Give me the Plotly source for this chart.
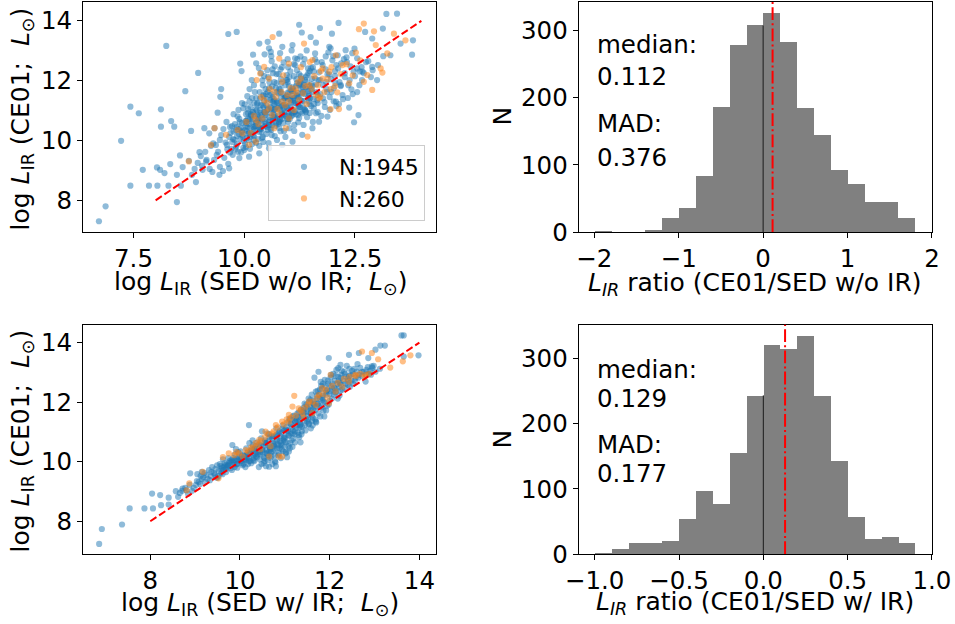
import plotly.graph_objects as go

# ---------------- data ----------------
# Top-left: CE01 vs SED w/o IR
tl_blue_x = [6.72, 6.87, 7.22, 7.43, 7.62, 7.43, 7.71, 7.85, 8.03, 8.10, 8.04, 8.12, 8.12, 8.24, 8.35, 8.42, 8.20, 8.33, 8.29, 8.48,
             8.48, 8.55, 8.57, 8.61, 8.67, 8.75, 8.80, 8.96, 8.91, 8.99, 9.06, 9.14, 9.21, 9.40, 9.46, 9.48, 9.64, 9.83, 9.91, 9.94,
             9.33, 9.44, 9.66, 9.10,
             10.20, 10.34, 10.53, 10.79, 10.60, 10.86, 11.09, 11.24, 11.30, 11.50, 11.71, 11.62, 11.98, 12.13, 11.92, 12.29, 12.49,
             12.73, 12.89, 13.13, 13.21, 13.45, 13.53, 13.81, 13.79, 13.30, 13.00, 12.89, 12.67, 12.58, 12.48, 12.37, 12.55, 12.18,
             12.07, 11.88, 11.69, 11.54, 11.31, 11.09, 10.86, 10.56, 10.34, 10.11, 9.89,
             9.32, 9.41, 9.36, 9.45, 9.38, 9.48, 9.30, 9.55, 9.62, 9.58, 9.66, 9.53, 9.68, 9.60, 9.64,
             9.74, 9.82, 9.78, 9.88, 9.72, 9.85, 9.80, 9.76, 9.87, 9.93, 10.02, 9.97, 10.06, 9.95, 10.08, 10.01, 10.04, 9.92, 10.07,
             10.13, 10.22, 10.16, 10.26, 10.19, 10.28, 10.12, 10.24, 10.21, 10.17, 10.27,
             10.34, 10.42, 10.38, 10.47, 10.32, 10.44, 10.36, 10.48, 10.41, 10.33, 10.46, 10.39,
             10.55, 10.62, 10.58, 10.66, 10.52, 10.68, 10.57, 10.63, 10.54, 10.69, 10.61, 10.56, 10.65,
             10.74, 10.82, 10.78, 10.86, 10.72, 10.88, 10.77, 10.84, 10.73, 10.89, 10.81, 10.76,
             10.93, 11.02, 10.97, 11.06, 10.92, 11.08, 11.01, 10.95, 11.04, 10.98, 11.07, 11.00,
             11.13, 11.22, 11.17, 11.26, 11.12, 11.28, 11.19, 11.24, 11.15, 11.27, 11.21,
             11.34, 11.42, 11.37, 11.46, 11.32, 11.48, 11.39, 11.44, 11.36, 11.41,
             11.55, 11.62, 11.58, 11.66, 11.52, 11.68, 11.57, 11.64, 11.60,
             11.74, 11.82, 11.78, 11.86, 11.72, 11.88, 11.77, 11.84,
             11.93, 12.02, 11.97, 12.06, 11.92, 12.08, 12.01, 11.95,
             12.14, 12.22, 12.18, 12.27, 12.12, 12.25, 12.34, 12.42, 12.38, 12.47, 12.32, 12.44,
             12.55, 12.66, 12.61, 12.75, 12.86, 13.02, 13.14,
             10.11, 10.29, 10.45, 10.51, 10.67, 10.71, 10.83, 10.91, 10.99, 11.09, 11.11, 11.23, 11.31, 11.35, 11.47, 11.53,
             10.37, 10.59, 10.79, 10.96, 11.18, 10.49, 10.23, 10.05, 9.91, 9.83, 10.15, 10.35, 10.85, 11.05, 11.25, 11.45,
             11.65, 11.85, 12.05, 10.65, 10.45, 10.85, 11.15, 11.55,
             9.05, 9.15, 9.22, 9.12, 9.25, 9.02, 8.95, 8.88, 8.82, 9.28, 9.45, 9.52,
             9.61, 9.69, 9.73, 9.79, 9.84, 9.86, 9.89, 9.94, 9.98, 10.03, 10.06, 10.09, 10.14, 10.18, 10.20, 10.25, 10.27, 10.31,
             10.33, 10.36, 10.40, 10.43, 10.45, 10.48, 10.50, 10.53, 10.56, 10.59, 10.61, 10.64, 10.66, 10.69, 10.71, 10.74,
             10.77, 10.80, 10.83, 10.85, 10.88, 10.90, 10.93, 10.96, 10.99, 11.02, 11.04, 11.07, 11.10, 11.13, 11.16, 11.19,
             11.21, 11.24, 11.27, 11.30, 11.33, 11.36, 11.39, 11.42, 11.45, 11.48, 11.51, 11.54, 11.57, 11.60, 11.63, 11.66,
             11.69, 11.72, 11.75, 11.78, 11.81, 11.84, 11.87, 11.90, 11.93, 11.96, 11.99, 12.02, 12.05, 12.08, 12.11, 12.15,
             12.19, 12.23, 12.27, 12.31, 12.35, 12.40, 12.45, 12.50, 12.55, 12.60, 12.65, 12.70, 12.80, 12.90, 10.22, 10.38,
             10.52, 10.68, 10.82, 10.98, 11.12, 11.28, 10.62, 10.42, 10.12, 9.95, 9.76, 9.68,
             9.71, 9.75, 9.81, 9.84, 9.90, 9.96, 10.00, 10.04, 10.07, 10.10, 10.14, 10.17, 10.20, 10.24, 10.27, 10.30,
             10.33, 10.37, 10.40, 10.43, 10.46, 10.50, 10.53, 10.56, 10.60, 10.63, 10.66, 10.70, 10.73, 10.76, 10.79, 10.82,
             10.85, 10.88, 10.91, 10.94, 10.97, 11.00, 11.03, 11.06, 11.09, 11.12, 11.15, 11.18, 11.21, 11.24, 11.27, 11.30,
             11.33, 11.36, 11.39, 11.42, 11.45, 11.48, 11.51, 11.54, 11.57, 11.60, 11.63, 11.66, 10.26, 10.47, 10.69, 10.90,
             11.11, 11.32, 10.58, 10.80, 11.01, 11.22, 10.35, 10.57, 10.78, 10.99, 11.20, 10.18, 9.98, 9.88, 10.12, 10.64,
             10.02, 10.08, 10.13, 10.19, 10.24, 10.29, 10.34, 10.39, 10.44, 10.49, 10.54, 10.59, 10.64, 10.69, 10.74, 10.79,
             10.84, 10.89, 10.94, 10.99, 11.04, 11.09, 11.14, 11.19, 11.24, 11.29, 11.34, 11.39, 11.44, 11.49,
             10.05, 10.11, 10.16, 10.21, 10.26, 10.31, 10.37, 10.42, 10.47, 10.52, 10.57, 10.62, 10.67, 10.72, 10.77, 10.82,
             10.87, 10.92, 10.97, 11.02, 11.07, 11.12, 11.17, 11.22, 11.27, 11.32, 11.37, 11.42, 11.47, 11.52,
             9.95, 9.99, 10.03, 10.09, 10.15, 10.22, 10.28, 10.35, 10.41, 10.48, 10.55, 10.61, 10.68, 10.75, 10.81, 10.88,
             10.95, 11.01, 11.08, 11.15]
tl_blue_y = [7.30, 7.80, 9.99, 11.13, 10.91, 8.49, 9.02, 8.49, 9.10, 9.02, 8.49, 11.04, 10.46, 13.16, 10.65, 10.46, 8.91, 9.21, 8.49, 8.85,
             7.94, 9.50, 8.49, 9.11, 11.65, 9.32, 10.32, 12.26, 8.61, 9.61, 9.02, 9.30, 10.24, 10.93, 11.46, 11.72, 13.56, 13.63, 12.57, 12.32,
             10.41, 8.85, 9.07, 10.41,
             12.87, 13.24, 13.30, 13.57, 12.96, 13.13, 13.19, 13.87, 13.61, 13.46, 13.76, 13.27, 13.57, 13.93, 13.13, 13.02, 13.07,
             13.63, 13.41, 13.74, 14.23, 14.24, 13.24, 13.35, 12.87, 12.85, 12.02, 12.46, 12.30, 10.85, 10.61, 11.10, 12.41, 11.85,
             11.30, 10.80, 10.63, 10.41, 10.19, 9.96, 9.85, 9.74, 9.57, 9.46, 9.41,
             9.35, 9.62, 9.85, 10.02, 9.52, 10.18, 9.90, 9.42, 9.71, 9.93, 10.12, 10.38, 9.60, 10.62, 9.22,
             9.52, 9.80, 10.02, 10.22, 10.48, 10.81, 9.70, 10.30, 11.02, 9.61, 9.88, 10.12, 10.31, 10.58, 10.92, 11.21, 9.78, 10.42, 11.48,
             9.72, 10.01, 10.22, 10.48, 10.71, 11.02, 11.31, 11.62, 10.38, 12.02, 12.58,
             9.82, 10.12, 10.38, 10.61, 10.83, 11.12, 11.41, 11.72, 12.01, 12.42, 12.88, 10.28,
             9.91, 10.18, 10.52, 10.78, 11.02, 11.21, 11.52, 11.81, 12.12, 12.48, 12.82, 13.08, 10.68,
             10.02, 10.31, 10.62, 10.88, 11.12, 11.32, 11.58, 11.91, 12.22, 12.61, 12.92, 10.82,
             10.12, 10.41, 10.72, 11.02, 11.21, 11.48, 11.82, 12.02, 12.31, 12.72, 13.01, 11.38,
             10.32, 10.61, 10.88, 11.12, 11.42, 11.71, 11.92, 12.22, 12.52, 12.81, 11.22,
             10.52, 10.78, 11.02, 11.31, 11.62, 11.82, 12.12, 12.41, 12.72, 13.01,
             10.62, 10.91, 11.22, 11.52, 11.72, 12.02, 12.31, 12.62, 12.91,
             10.82, 11.12, 11.41, 11.72, 12.02, 12.21, 12.52, 12.81,
             11.02, 11.31, 11.62, 11.92, 12.21, 12.52, 12.82, 13.08,
             11.22, 11.52, 11.82, 12.12, 12.41, 12.72, 11.42, 11.71, 12.02, 12.31, 12.62, 12.92,
             11.62, 12.02, 12.31, 12.62, 12.12, 12.52, 12.82,
             10.55, 10.86, 10.95, 10.45, 11.38, 10.49, 11.45, 10.95, 11.61, 10.86, 11.66, 11.47, 10.91, 11.86, 11.54, 12.06,
             11.18, 11.36, 11.73, 12.19, 12.05, 11.55, 11.25, 10.66, 10.05, 10.45, 10.85, 10.65, 11.15, 11.25, 11.85, 12.25,
             11.35, 11.95, 12.15, 12.25, 12.15, 12.45, 12.75, 12.45,
             9.15, 9.35, 9.05, 9.62, 9.82, 9.48, 9.25, 9.05, 8.85, 8.95, 9.12, 8.98,
             9.85, 10.25, 9.95, 10.55, 10.15, 9.62, 10.72, 10.28, 9.75, 10.48, 10.08, 11.05, 10.42, 9.88, 10.95, 10.32, 11.42, 10.05,
             10.72, 11.02, 10.52, 9.95, 11.32, 10.85, 10.22, 11.62, 10.62, 11.12, 10.35, 11.45, 10.95, 10.15, 11.75, 11.28,
             10.55, 11.02, 12.05, 10.72, 11.55, 10.32, 11.85, 11.12, 10.62, 12.12, 11.42, 10.82, 11.72, 10.52, 11.25, 12.35,
             11.58, 10.75, 11.95, 11.32, 12.55, 11.05, 11.78, 12.18, 11.48, 10.92, 12.42, 11.62, 11.08, 12.72, 11.88, 11.25,
             12.28, 11.55, 12.62, 11.85, 11.28, 12.38, 11.62, 12.95, 11.45, 12.05, 12.68, 11.75, 12.32, 11.15, 12.85, 11.95,
             12.58, 11.38, 12.25, 12.78, 11.85, 12.48, 11.55, 12.15, 12.75, 11.85, 12.45, 12.25, 12.65, 12.35, 11.85, 12.25,
             12.35, 11.95, 12.38, 11.95, 12.55, 12.15, 12.65, 11.85, 11.72, 11.25, 10.88, 10.45,
             9.72, 10.05, 10.35, 9.88, 10.62, 10.18, 9.68, 10.88, 10.45, 10.02, 11.12, 10.62, 10.18, 10.82, 9.92, 11.25,
             10.45, 10.92, 10.08, 11.52, 10.72, 11.18, 10.35, 11.75, 10.92, 10.52, 11.32, 10.78, 11.92, 11.08, 10.42, 11.62,
             10.95, 10.58, 11.42, 10.82, 12.02, 11.15, 10.72, 11.68, 11.05, 12.15, 10.98, 11.48, 10.85, 11.88, 11.35, 12.05,
             11.12, 11.55, 10.95, 11.95, 11.42, 12.32, 11.15, 11.82, 11.38, 12.08, 11.62, 10.95, 10.58, 10.48, 11.05, 11.08,
             11.35, 11.78, 10.68, 10.72, 10.92, 11.15, 11.62, 11.95, 12.22, 12.45, 12.72, 11.42, 11.08, 10.38, 10.72, 12.38,
             10.35, 10.72, 10.12, 10.95, 10.48, 11.22, 10.28, 10.85, 11.48, 10.55, 11.05, 10.38, 11.28, 10.75, 11.62, 10.62,
             11.15, 10.88, 11.45, 10.72, 11.35, 11.78, 10.95, 11.52, 11.12, 11.88, 11.32, 10.98, 11.65, 11.42,
             10.58, 10.25, 10.82, 10.45, 11.05, 10.68, 10.42, 11.18, 10.92, 11.38, 10.78, 11.55, 11.02, 10.58, 11.25, 11.72,
             10.85, 11.42, 11.08, 11.62, 10.92, 11.25, 11.82, 11.45, 10.95, 11.58, 12.02, 11.72, 11.22, 11.88,
             10.32, 9.98, 10.65, 10.22, 10.88, 10.15, 10.62, 10.38, 10.72, 10.95, 10.52, 11.08, 10.85, 11.32, 10.68, 11.18,
             11.48, 10.82, 11.65, 11.32]

tl_orange_x = [10.64, 10.36, 10.28, 10.45, 10.79, 11.01, 11.35, 11.54, 11.77, 12.07, 12.22, 12.59, 12.70, 12.93, 13.38, 13.64,
               13.23, 12.97, 12.52, 13.08, 13.12, 12.78, 12.70, 12.89, 12.37, 12.10, 11.95, 12.14, 11.69, 11.62, 11.24, 11.09,
               10.86, 10.68, 10.45, 10.41, 10.26, 10.56, 10.79, 11.01, 10.94, 10.68, 9.96, 9.85, 9.33, 9.25, 8.75, 11.43,
               11.16, 11.47, 11.28, 10.56, 10.86, 11.77, 11.92, 11.01, 10.11, 9.59, 10.26,
               10.32, 10.48, 10.52, 10.63, 10.71, 10.75, 10.84, 10.92, 10.97, 11.05, 11.12, 11.18, 11.22, 11.33, 11.38, 11.41,
               11.52, 11.58, 11.66, 11.73, 11.81, 11.88, 11.97, 12.05, 12.18, 12.31, 12.45, 12.62, 10.15, 10.05, 10.22, 10.88,
               11.28, 11.48, 10.58, 10.38, 11.72, 11.95]
tl_orange_y = [13.46, 12.24, 12.02, 12.46, 12.74, 12.57, 13.24, 12.69, 12.41, 12.85, 12.52, 13.72, 13.91, 13.65, 13.57, 13.35,
               12.91, 13.19, 12.94, 12.41, 12.27, 12.19, 11.96, 11.69, 11.91, 11.61, 11.05, 11.05, 11.41, 11.52, 11.35, 11.52,
               11.30, 11.63, 11.35, 10.74, 10.69, 11.07, 10.91, 10.74, 10.41, 10.41, 10.24, 10.35, 10.41, 9.85, 9.30, 10.13,
               11.74, 11.85, 12.07, 12.07, 11.96, 12.07, 12.30, 11.30, 9.85, 10.19, 9.96,
               10.55, 10.95, 11.25, 10.85, 11.45, 11.05, 11.62, 11.18, 11.52, 11.75, 11.02, 11.62, 11.95, 11.58, 11.82, 11.22,
               11.72, 12.15, 11.85, 12.32, 11.62, 12.05, 12.45, 11.82, 12.22, 12.55, 12.18, 12.68, 10.25, 10.62, 10.82, 12.18,
               12.45, 12.62, 11.72, 11.45, 11.45, 11.72]

# Bottom-left: CE01 vs SED w/ IR
bl_blue_x = [6.86, 6.92, 7.37, 7.54, 7.87, 8.06, 8.04, 8.24, 8.22, 8.41, 8.41, 8.57, 8.72, 8.89, 8.80, 9.15, 9.50, 10.20, 9.83,
             11.98, 12.43, 12.65, 12.86, 13.02, 13.13, 13.23, 13.60, 13.65, 13.65, 13.98, 12.94, 12.80, 12.19, 12.24, 11.61,
             11.69, 11.31, 11.17, 11.02, 10.65, 11.09,
             8.62, 8.71, 8.78, 8.84, 8.88, 8.66, 8.93, 9.02, 9.08, 9.15, 8.97, 9.12, 9.05,
             9.22, 9.28, 9.35, 9.42, 9.31, 9.47, 9.38, 9.25, 9.52, 9.58, 9.63, 9.71, 9.55, 9.77, 9.68, 9.62,
             9.82, 9.88, 9.93, 10.02, 9.85, 10.07, 9.96, 10.04, 9.91,
             10.12, 10.18, 10.23, 10.31, 10.15, 10.37, 10.26, 10.34, 10.21, 10.28,
             10.42, 10.48, 10.55, 10.63, 10.45, 10.68, 10.52, 10.58, 10.66, 10.49, 10.61,
             10.72, 10.78, 10.85, 10.93, 10.75, 10.97, 10.82, 10.88, 10.95, 10.73, 10.91,
             11.02, 11.08, 11.15, 11.22, 11.05, 11.27, 11.12, 11.18, 11.25, 11.01,
             11.32, 11.38, 11.45, 11.52, 11.35, 11.57, 11.42, 11.48, 11.55, 11.33, 11.58,
             11.62, 11.68, 11.75, 11.82, 11.65, 11.87, 11.72, 11.78, 11.85, 11.66, 11.75, 11.88,
             11.92, 11.98, 12.05, 12.12, 11.95, 12.17, 12.02, 12.08, 12.15, 12.18,
             12.22, 12.28, 12.35, 12.42, 12.25, 12.47, 12.32, 12.38, 12.45,
             12.52, 12.58, 12.65, 12.72, 12.55, 12.82, 12.88, 12.62, 12.92, 13.02, 13.12, 12.98,
             10.13, 10.33, 10.53, 10.73, 10.93, 11.13, 11.33, 11.53, 11.73, 11.93, 12.13, 10.43, 10.63, 10.83, 11.03,
             11.23, 11.43, 11.63, 11.83, 12.03, 12.23, 9.73, 9.93, 10.03, 9.45, 10.58, 10.80, 10.68, 11.05, 11.35,
             9.04, 9.11, 9.18, 9.21, 9.33, 9.36, 9.44, 9.49,
             9.53, 9.57, 9.61, 9.66, 9.69, 9.74, 9.79, 9.81, 9.86, 9.89, 9.94, 9.97, 10.01, 10.06, 10.09, 10.14, 10.17,
             10.22, 10.25, 10.29, 10.32, 10.36, 10.39, 10.41, 10.44, 10.47, 10.50, 10.53, 10.56, 10.59, 10.62, 10.65, 10.67,
             10.70, 10.74, 10.77, 10.79, 10.81, 10.84, 10.87, 10.90, 10.92, 10.96, 10.99,
             11.03, 11.06, 11.09, 11.11, 11.14, 11.17, 11.20, 11.23, 11.26, 11.29, 11.31, 11.34, 11.37, 11.40, 11.43, 11.46,
             11.49, 11.51, 11.54, 11.57, 11.59,
             11.61, 11.64, 11.67, 11.70, 11.73, 11.76, 11.79, 11.81, 11.84, 11.86, 11.89, 11.91, 11.94, 11.97, 12.00, 12.03,
             12.06, 12.09, 12.11, 12.14, 12.19, 12.21, 12.24, 12.27, 12.30,
             12.33, 12.37, 12.40, 12.44, 12.48, 12.52, 12.56, 12.60, 12.64, 12.68, 12.72, 12.76, 12.81, 12.85, 12.90, 12.95,
             9.58, 9.64, 9.70, 9.76, 9.83, 9.90, 9.96, 10.03, 10.10, 10.16, 10.20, 10.27, 10.30, 10.35, 10.40, 10.46,
             10.51, 10.57, 10.60, 10.64, 10.69, 10.72, 10.76, 10.80, 10.83, 10.86, 10.89, 10.94, 10.98, 11.00, 11.07, 11.10,
             11.16, 11.19, 11.24, 11.28, 11.32, 11.36, 11.41, 11.44, 11.50, 11.53, 11.56, 11.60, 11.63, 11.69, 11.71, 11.77,
             11.80, 11.83, 11.90, 11.96, 12.01, 12.07, 12.13, 12.20, 12.26, 12.34, 12.43, 12.50,
             9.60, 9.67, 9.73, 9.80, 9.87, 9.93, 9.99, 10.05, 10.11, 10.19, 10.24, 10.33, 10.38, 10.43, 10.50, 10.55,
             10.60, 10.66, 10.71, 10.76, 10.82, 10.88, 10.93, 10.97, 11.02, 11.08, 11.13, 11.18, 11.23, 11.30, 11.35, 11.41,
             11.47, 11.52, 11.58, 11.64, 11.70, 11.78, 11.85, 11.93,
             10.08, 10.20, 10.30, 10.45, 10.55, 10.65, 10.78, 10.88, 11.00, 11.12, 11.22, 11.38, 11.50, 11.62, 11.74, 11.88,
             12.00, 12.10, 12.25, 12.40]
bl_blue_y = [7.24, 7.74, 7.89, 8.43, 8.43, 8.43, 8.93, 8.54, 8.88, 8.79, 8.56, 9.01, 9.10, 9.61, 9.04, 9.66, 9.46, 11.23, 10.56,
             13.48, 13.59, 13.65, 13.48, 13.76, 13.90, 13.90, 14.24, 14.24, 13.53, 13.57, 13.20, 12.69, 13.14, 13.25, 11.57,
             11.35, 10.90, 10.50, 10.28, 9.83, 10.34,
             8.82, 9.02, 9.12, 8.92, 9.22, 8.95, 9.02, 9.22, 9.32, 9.42, 9.12, 9.52, 9.58,
             9.32, 9.42, 9.52, 9.62, 9.72, 9.47, 9.82, 9.55, 9.52, 9.62, 9.72, 9.82, 9.92, 10.02, 9.75, 10.08,
             9.72, 9.82, 9.92, 10.02, 10.12, 10.22, 10.32, 9.95, 10.42,
             9.82, 9.92, 10.02, 10.12, 10.22, 10.32, 10.42, 10.52, 10.62, 10.72,
             9.82, 9.92, 10.02, 10.22, 10.32, 10.42, 10.52, 10.62, 10.82, 11.02, 10.95,
             9.92, 10.02, 10.22, 10.42, 10.52, 10.72, 10.92, 11.02, 11.22, 10.62, 10.12,
             10.32, 10.52, 10.72, 10.92, 11.02, 11.22, 11.42, 11.52, 11.12, 10.82,
             10.82, 11.02, 11.22, 11.42, 11.52, 11.62, 11.82, 11.92, 12.02, 11.32, 11.12,
             11.22, 11.42, 11.62, 11.82, 11.92, 12.02, 12.22, 12.42, 12.62, 12.82, 13.02, 11.52,
             11.72, 11.92, 12.12, 12.32, 12.42, 12.62, 12.82, 12.95, 13.08, 12.12,
             12.22, 12.42, 12.62, 12.72, 12.82, 12.92, 13.02, 13.22, 12.52,
             12.62, 12.82, 12.92, 13.02, 13.12, 13.08, 12.95, 13.28, 12.92, 13.02, 13.12, 13.22,
             10.05, 10.25, 10.15, 10.35, 10.55, 10.95, 11.15, 11.25, 11.95, 12.25, 12.45, 10.45, 10.55, 10.75, 11.15,
             11.35, 11.65, 11.75, 12.15, 12.55, 12.65, 9.88, 10.08, 10.15, 9.75, 9.85, 9.85, 10.12, 10.15, 10.65,
             9.35, 9.25, 9.48, 9.62, 9.38, 9.65, 9.55, 9.88,
             9.68, 9.85, 9.58, 9.95, 9.65, 10.12, 9.78, 10.05, 9.90, 10.25, 9.80, 10.15, 10.35, 9.88, 10.08, 10.45, 10.12,
             10.28, 9.95, 10.55, 10.02, 10.18, 10.65, 10.35, 10.08, 10.78, 10.42, 9.95, 10.72, 10.28, 10.05, 10.92, 10.48,
             10.18, 10.85, 10.42, 9.98, 11.12, 10.58, 10.28, 10.85, 10.62, 10.35, 11.05,
             10.65, 11.32, 10.88, 10.45, 11.25, 10.95, 11.55, 10.65, 11.38, 10.98, 11.65, 11.22, 10.92, 11.72, 11.38, 11.05,
             11.85, 11.55, 11.28, 12.08, 11.72,
             11.38, 12.05, 11.72, 11.32, 12.38, 11.88, 11.52, 12.55, 12.08, 11.72, 12.75, 12.32, 11.88, 12.62, 12.05, 12.92,
             12.45, 12.25, 12.72, 12.35, 12.85, 12.52, 12.38, 13.05, 12.72,
             12.48, 12.85, 12.58, 13.12, 12.72, 12.95, 12.72, 13.02, 12.82, 13.15, 12.88, 13.02, 12.92, 13.18, 13.05, 13.15,
             9.74, 9.82, 9.90, 9.95, 10.00, 10.05, 10.02, 10.10, 10.20, 10.30, 10.12, 10.38, 10.22, 10.45, 10.25, 10.55,
             10.32, 10.62, 10.40, 10.70, 10.32, 10.78, 10.55, 10.88, 10.45, 10.95, 10.68, 11.10, 10.82, 10.50, 11.05, 11.45,
             11.15, 10.78, 11.45, 11.62, 11.42, 11.75, 11.55, 11.95, 11.68, 12.12, 11.85, 12.25, 11.95, 12.35, 12.12, 12.25,
             12.68, 12.45, 12.55, 12.72, 12.38, 12.62, 12.88, 12.72, 12.92, 12.95, 12.88, 13.05,
             9.80, 9.88, 9.85, 9.98, 10.05, 9.92, 10.12, 10.18, 10.08, 10.25, 10.35, 10.42, 10.15, 10.58, 10.38, 10.65,
             10.28, 10.48, 10.85, 10.60, 10.72, 10.45, 10.98, 10.78, 11.08, 10.88, 11.28, 11.05, 11.35, 11.50, 11.25, 11.68,
             11.45, 11.78, 11.62, 11.92, 11.85, 12.12, 12.22, 12.38,
             9.92, 10.02, 10.05, 10.25, 10.12, 10.35, 10.22, 10.55, 10.68, 10.62, 11.02, 11.18, 11.35, 11.48, 11.95, 11.98,
             12.28, 12.48, 12.58, 12.78]

bl_orange_x = [12.72, 12.94, 13.08, 13.35, 13.80, 13.63, 11.21, 11.17, 12.02, 12.57, 12.80, 11.83, 12.28, 11.98, 11.69,
               11.61, 11.39, 11.09, 10.94, 10.80, 10.72, 10.43, 10.35, 10.13, 9.98, 9.87, 10.06, 10.65, 10.87, 10.94,
               9.52, 9.17, 8.81, 8.87, 11.31, 11.54, 12.13, 12.43, 11.76, 10.57, 10.28, 11.09,
               10.18, 10.25, 10.38, 10.47, 10.55, 10.63, 10.75, 10.84, 10.98, 11.04, 11.14, 11.25, 11.35, 11.45, 11.52, 11.62,
               11.72, 11.85, 11.92, 12.05, 12.18, 12.32, 12.45, 12.58, 12.68, 12.78, 12.88, 9.62, 9.75, 9.92, 10.45, 10.68,
               11.42, 11.95]
bl_orange_y = [13.70, 13.65, 13.44, 13.16, 13.57, 13.37, 12.21, 11.85, 12.92, 12.92, 12.92, 12.47, 12.52, 11.96, 11.91,
               11.63, 11.63, 11.35, 11.35, 11.23, 10.95, 10.73, 10.62, 10.39, 10.28, 10.22, 10.17, 10.17, 10.17, 10.17,
               9.44, 9.66, 9.04, 9.27, 11.79, 12.02, 12.36, 12.69, 12.24, 11.01, 10.45, 11.57,
               10.35, 10.48, 10.55, 10.68, 10.82, 10.92, 11.02, 11.15, 11.25, 11.42, 11.48, 11.55, 11.72, 11.82, 11.92, 12.02,
               12.15, 12.28, 12.42, 12.55, 12.65, 12.78, 12.85, 12.88, 12.95, 12.85, 12.95, 10.15, 10.28, 10.32, 10.42, 10.52,
               11.48, 12.15]

one_to_one = [8, 14]

# Histograms (bin centres and counts)
tr_centers = [-1.9, -1.7, -1.5, -1.3, -1.1, -0.9, -0.7, -0.5, -0.3, -0.1, 0.1, 0.3, 0.5, 0.7, 0.9, 1.1, 1.3, 1.5, 1.7]
tr_counts = [1, 0, 0, 3, 21, 36, 84, 187, 279, 308, 327, 284, 185, 145, 93, 71, 45, 45, 21]
tr_width = 0.2
tr_median = 0.112
tr_mad = 0.376

br_centers = [-0.95, -0.85, -0.75, -0.65, -0.55, -0.45, -0.35, -0.25, -0.15, -0.05, 0.05, 0.15, 0.25, 0.35, 0.45, 0.55, 0.65, 0.75, 0.85]
br_counts = [1, 8, 17, 17, 21, 54, 97, 77, 155, 244, 321, 315, 335, 243, 144, 58, 24, 26, 18]
br_width = 0.1
br_median = 0.129
br_mad = 0.177

# ---------------- figure ----------------
W, H = 955, 624
BLUE = "#1f77b4"
ORANGE = "#ff7f0e"
FONT = "DejaVu Sans"

def px(x):
    return x / W

def py(y):
    return 1 - y / H

fig = go.Figure()

mk = dict(size=6.2, opacity=0.5, line=dict(width=0))
fig.add_trace(go.Scatter(x=tl_blue_x, y=tl_blue_y, mode="markers", marker=dict(color=BLUE, **mk),
                         name="N:1945", xaxis="x", yaxis="y"))
fig.add_trace(go.Scatter(x=tl_orange_x, y=tl_orange_y, mode="markers", marker=dict(color=ORANGE, **mk),
                         name="N:260", xaxis="x", yaxis="y"))
fig.add_trace(go.Scatter(x=one_to_one, y=one_to_one, mode="lines", showlegend=False,
                         line=dict(color="red", width=2, dash="7.4px,3.2px"), xaxis="x", yaxis="y"))

fig.add_trace(go.Scatter(x=bl_blue_x, y=bl_blue_y, mode="markers", marker=dict(color=BLUE, **mk),
                         showlegend=False, xaxis="x3", yaxis="y3"))
fig.add_trace(go.Scatter(x=bl_orange_x, y=bl_orange_y, mode="markers", marker=dict(color=ORANGE, **mk),
                         showlegend=False, xaxis="x3", yaxis="y3"))
fig.add_trace(go.Scatter(x=one_to_one, y=one_to_one, mode="lines", showlegend=False,
                         line=dict(color="red", width=2, dash="7.4px,3.2px"), xaxis="x3", yaxis="y3"))

fig.add_trace(go.Bar(x=tr_centers, y=tr_counts, width=tr_width, marker=dict(color="#808080", line=dict(width=0)),
                     showlegend=False, xaxis="x2", yaxis="y2"))
fig.add_trace(go.Bar(x=br_centers, y=br_counts, width=br_width, marker=dict(color="#808080", line=dict(width=0)),
                     showlegend=False, xaxis="x4", yaxis="y4"))

# zero lines and median lines
fig.add_shape(type="line", xref="x2", yref="y2", x0=0, x1=0, y0=0, y1=tr_counts[9],
              line=dict(color="black", width=0.8))
fig.add_shape(type="line", xref="x4", yref="y4", x0=0, x1=0, y0=0, y1=br_counts[9],
              line=dict(color="black", width=0.8))
fig.add_shape(type="line", xref="x2", yref="y2 domain", x0=tr_median, x1=tr_median, y0=0, y1=1,
              line=dict(color="red", width=2, dash="12.8px,3.2px,2px,3.2px"))
fig.add_shape(type="line", xref="x4", yref="y4 domain", x0=br_median, x1=br_median, y0=0, y1=1,
              line=dict(color="red", width=2, dash="12.8px,3.2px,2px,3.2px"))

xl_dom = [px(83), px(436)]
xr_dom = [px(578.7), px(932)]
yt_dom = [py(232), py(2)]
yb_dom = [py(554), py(324.7)]

tickfont = dict(family=FONT, size=24.5, color="black")
common = dict(showline=True, mirror=True, linecolor="black", linewidth=1, ticks="outside", ticklen=5,
              tickwidth=1, tickcolor="black", showgrid=False, zeroline=False, tickfont=tickfont,
              automargin=False)

fig.update_layout(
    width=W, height=H, autosize=False,
    margin=dict(l=0, r=0, t=0, b=0, pad=0, autoexpand=False),
    paper_bgcolor="white", plot_bgcolor="white",
    font=dict(family=FONT, color="black"),
    bargap=0,
    xaxis=dict(domain=xl_dom, anchor="y", range=[6.36, 14.33], tickvals=[7.5, 10, 12.5],
               ticktext=["7.5", "10.0", "12.5"], **common),
    yaxis=dict(domain=yt_dom, anchor="x", range=[6.94, 14.63], tickvals=[8, 10, 12, 14], **common),
    xaxis2=dict(domain=xr_dom, anchor="y2", range=[-2.185, 2.0005], tickvals=[-2, -1, 0, 1, 2],
                ticktext=["\u22122", "\u22121", "0", "1", "2"], **common),
    yaxis2=dict(domain=yt_dom, anchor="x2", range=[0, 343], tickvals=[0, 100, 200, 300], **common),
    xaxis3=dict(domain=xl_dom, anchor="y3", range=[6.5, 14.37], tickvals=[8, 10, 12, 14], **common),
    yaxis3=dict(domain=yb_dom, anchor="x3", range=[6.9, 14.6], tickvals=[8, 10, 12, 14], **common),
    xaxis4=dict(domain=xr_dom, anchor="y4", range=[-1.095, 1.0005], tickvals=[-1, -0.5, 0, 0.5, 1],
                ticktext=["\u22121.0", "\u22120.5", "0.0", "0.5", "1.0"], **common),
    yaxis4=dict(domain=yb_dom, anchor="x4", range=[0, 352.5], tickvals=[0, 100, 200, 300], **common),
    legend=dict(x=px(425), y=py(221), xanchor="right", yanchor="bottom",
                bgcolor="rgba(255,255,255,0.8)", bordercolor="#cccccc", borderwidth=1,
                font=dict(family=FONT, size=22, color="black"), itemwidth=60),
)

ODOT = "\u2299"
title_font = dict(family=FONT, size=25, color="black")
ann = []
ann.append(dict(text="log <i>L</i><sub>IR</sub> (CE01;  <i>L</i><sub>" + ODOT + "</sub>)", x=px(21.5), y=py(119),
                textangle=-90))
ann.append(dict(text="log <i>L</i><sub>IR</sub> (CE01;  <i>L</i><sub>" + ODOT + "</sub>)", x=px(21.5), y=py(441),
                textangle=-90))
ann.append(dict(text="log <i>L</i><sub>IR</sub> (SED w/o IR;  <i>L</i><sub>" + ODOT + "</sub>)", x=px(260), y=py(283)))
ann.append(dict(text="log <i>L</i><sub>IR</sub> (SED w/ IR;  <i>L</i><sub>" + ODOT + "</sub>)", x=px(260), y=py(604)))
ann.append(dict(text="<i>L</i><sub><i>IR</i></sub> ratio (CE01/SED w/o IR)", x=px(755), y=py(283.5)))
ann.append(dict(text="<i>L</i><sub><i>IR</i></sub> ratio (CE01/SED w/ IR)", x=px(755), y=py(603)))
ann.append(dict(text="N", x=px(501.5), y=py(116), textangle=-90))
ann.append(dict(text="N", x=px(501.5), y=py(439), textangle=-90))

annotations = []
for a in ann:
    d = dict(xref="paper", yref="paper", showarrow=False, xanchor="center", yanchor="middle", font=title_font)
    d.update(a)
    annotations.append(d)

stat_font = dict(family=FONT, size=24.5, color="black")
def stat(text, xpx, baseline):
    return dict(text=text, xref="paper", yref="paper", x=px(xpx), y=py(baseline - 8.5), showarrow=False,
                xanchor="left", yanchor="middle", font=stat_font)

annotations += [
    stat("median:", 595, 52.7), stat(f"{tr_median:.3f}", 595, 85), stat("MAD:", 595, 131.7), stat(f"{tr_mad:.3f}", 595, 165.7),
    stat("median:", 595, 378.3), stat(f"{br_median:.3f}", 595, 407.3), stat("MAD:", 595, 452.7), stat(f"{br_mad:.3f}", 595, 482.3),
]
fig.update_layout(annotations=annotations)

# the default page keeps the browser's 8px body margin; remove it so the figure sits at the window origin
fig.write_html("out.html", config={"displayModeBar": False},
               post_script="document.body.style.margin='0px';")
